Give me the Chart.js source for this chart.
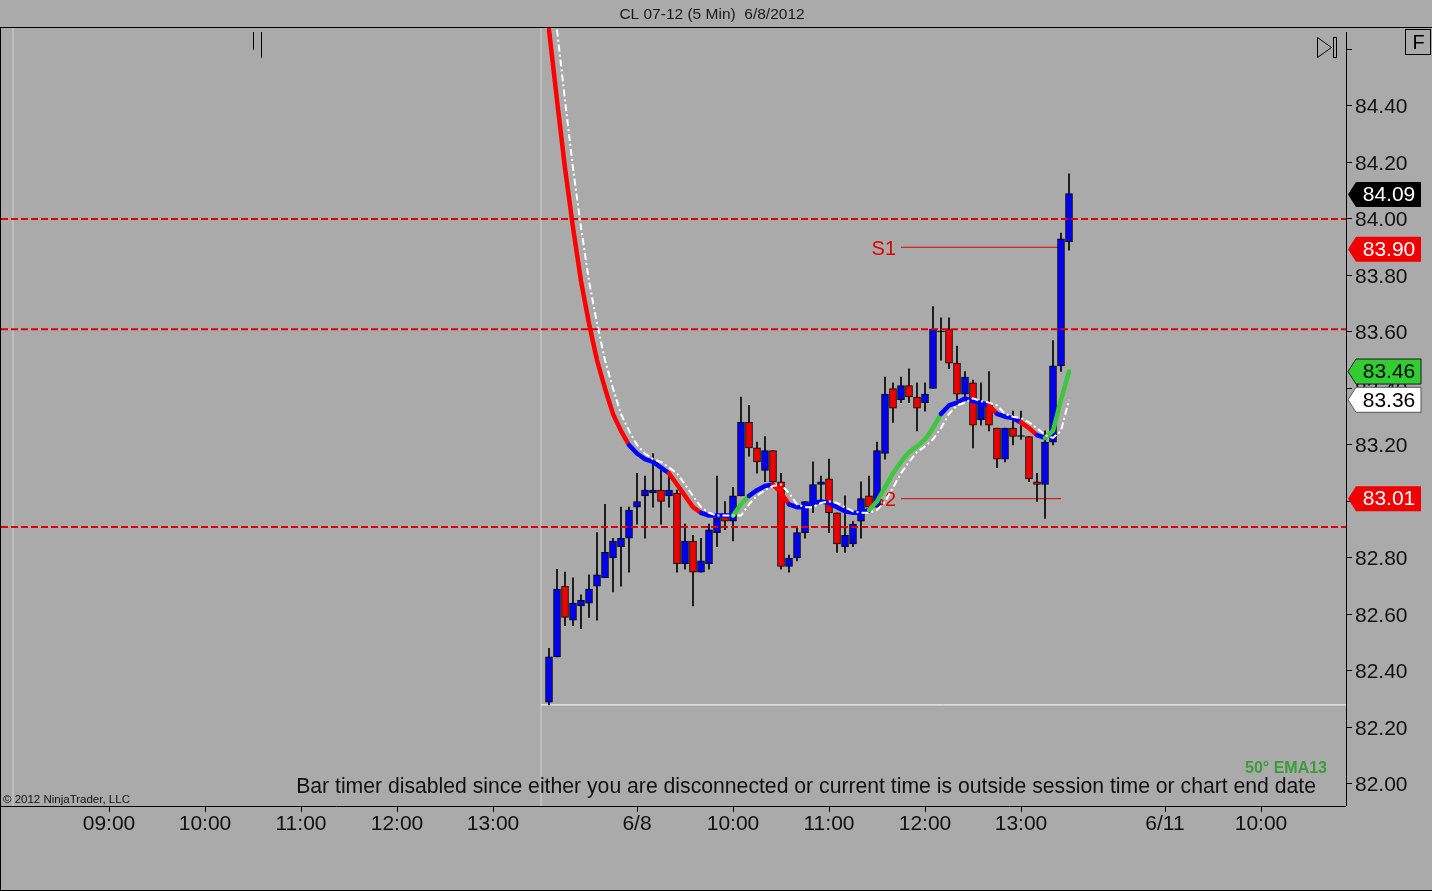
<!DOCTYPE html>
<html>
<head>
<meta charset="utf-8">
<title>CL 07-12 (5 Min) 6/8/2012</title>
<script src="https://cdn.jsdelivr.net/npm/chart.js@4.4.1/dist/chart.umd.min.js"></script>
<style>
  html, body { margin: 0; padding: 0; background: #aaaaaa; overflow: hidden; }
  #wrap { width: 1432px; height: 891px; position: relative; }
  canvas { display: block; }
</style>
</head>
<body>
<div id="wrap"><canvas id="chart" width="1432" height="891"></canvas></div>
<script>
/* ---- data ---- */
// x position of each bar, in 5-minute slots (slot 0 = 09:00 on 6/7)
const barSlot = [55,56,57,58,59,60,61,62,63,64,65,66,67,68,69,70,71,72,73,74,75,76,77,78,79,80,81,82,83,84,85,86,87,88,89,90,91,92,93,94,95,96,97,98,99,100,101,102,103,104,105,106,107,108,109,110,111,112,113,114,115,116,117,118,119,120];

const opens = [82.29,82.45,82.70,82.58,82.63,82.64,82.70,82.73,82.80,82.84,
  82.87,82.98,83.02,83.03,83.04,83.02,83.03,82.78,82.86,82.75,
  82.78,82.89,82.95,82.93,83.02,83.28,83.19,83.11,83.18,83.07,
  82.77,82.80,82.89,82.99,83.06,83.08,82.96,82.84,82.85,82.93,
  83.02,82.98,83.17,83.40,83.36,83.41,83.37,83.35,83.40,83.60,
  83.61,83.49,83.38,83.42,83.29,83.34,83.26,83.15,83.26,83.23,
  83.23,83.07,83.06,83.21,83.48,83.92];
const highs = [82.48,82.76,82.75,82.73,82.67,82.74,82.89,82.99,82.87,82.98,
  82.98,83.10,83.09,83.17,83.11,83.10,83.04,82.92,82.88,82.87,
  82.92,83.09,83.00,83.05,83.37,83.34,83.21,83.23,83.18,83.10,
  82.81,82.91,83.00,83.14,83.09,83.15,82.96,83.02,82.93,83.07,
  83.09,83.21,83.44,83.42,83.44,83.47,83.42,83.42,83.69,83.65,
  83.65,83.55,83.46,83.43,83.42,83.46,83.26,83.26,83.32,83.32,
  83.23,83.10,83.25,83.57,83.95,84.16];
const lows = [82.28,82.45,82.56,82.56,82.55,82.59,82.58,82.73,82.68,82.70,
  82.75,82.92,82.87,82.98,82.92,82.98,82.75,82.76,82.63,82.75,
  82.76,82.84,82.90,82.86,83.02,83.16,83.10,83.07,83.06,82.76,
  82.75,82.79,82.87,82.96,83.00,82.89,82.82,82.82,82.84,82.87,
  82.96,82.98,83.15,83.28,83.35,83.35,83.25,83.32,83.40,83.50,
  83.47,83.36,83.36,83.19,83.27,83.25,83.12,83.14,83.20,83.22,
  83.07,83.00,82.94,83.20,83.46,83.89];
const closes = [82.45,82.69,82.59,82.64,82.65,82.69,82.74,82.82,82.86,82.87,
  82.97,83.00,83.04,83.04,83.00,83.04,82.78,82.86,82.75,82.79,
  82.90,82.94,82.93,83.02,83.28,83.19,83.14,83.18,83.07,82.77,
  82.80,82.89,83.00,83.06,83.07,82.96,82.85,82.88,82.92,83.01,
  82.98,83.18,83.38,83.33,83.41,83.37,83.33,83.38,83.61,83.60,
  83.49,83.38,83.44,83.27,83.35,83.27,83.15,83.26,83.23,83.23,
  83.08,83.06,83.21,83.48,83.93,84.09];

// EMA13 as plotted, and its slope state (d = falling, f = flat, u = rising)
const ema13 = [84.67,84.42,84.18,83.97,83.78,83.63,83.50,83.40,83.31,83.25,
  83.20,83.17,83.15,83.14,83.12,83.10,83.06,83.02,82.98,82.96,
  82.95,82.95,82.95,82.95,82.99,83.02,83.04,83.055,83.06,83.03,
  82.99,82.98,82.98,82.995,83.00,82.995,82.98,82.965,82.96,82.96,
  82.97,83.00,83.05,83.10,83.14,83.175,83.195,83.22,83.26,83.31,
  83.34,83.35,83.365,83.355,83.35,83.34,83.31,83.30,83.295,83.28,
  83.26,83.235,83.225,83.25,83.36,83.46];
const emaTrend = ['d','d','d','d','d','d','d','d','d','d',
  'd','f','f','f','f','f','d','d','d','d',
  'f','f','f','f','u','u','f','f','f','d',
  'd','f','f','f','f','f','f','f','f','f',
  'f','u','u','u','u','u','u','u','u','u',
  'f','f','f','f','f','f','d','f','f','f',
  'd','d','f','u','u','u'];

// axes
const xTickSlots = [0,12,24,36,48,66,78,90,102,114,132,144];
const xTickLabels = ['09:00','10:00','11:00','12:00','13:00','6/8','10:00','11:00','12:00','13:00','6/11','10:00'];
const yTickValues = [82.0,82.2,82.4,82.6,82.8,83.0,83.2,83.4,83.6,83.8,84.0,84.2,84.4,84.6];
const yTickLabels = ['82.00','82.20','82.40','82.60','82.80','83.00','83.20','83.40','83.60','83.80','84.00','84.20','84.40',''];

// drawn levels
const dashedLevels = [84.00, 83.61, 82.91];
const sessionLow = 82.28;
const pivotNames = ['S1', 'S2'];
const pivotValues = [83.90, 83.01];
const pivotSlots = [99, 119];
const sessionBreakSlots = [-12, 54];

/* ---- layout ---- */
const X_MIN = -13.5, X_MAX = 154.625;
const Y_MIN = 81.9221, Y_MAX = 84.6796;
const FONT = "'Liberation Sans', Arial, sans-serif";
const C_UP = '#0000f0', C_DN = '#f00000';
const trendColor = { d: '#ff0000', f: '#0000ff', u: '#3cc83c' };

const bodyData = barSlot.map((s, i) => ({ x: s, y: [Math.min(opens[i], closes[i]), Math.max(opens[i], closes[i])] }));
const bodyColors = barSlot.map((s, i) => closes[i] > opens[i] ? C_UP : (closes[i] < opens[i] ? C_DN : '#000'));
const wickData = barSlot.map((s, i) => ({ x: s, y: [lows[i], highs[i]] }));
const emaData = barSlot.map((s, i) => ({ x: s, y: ema13[i] }));
// second (white) line: same average displaced one bar to the right
const emaShifted = barSlot.slice(0, -1).map((s, i) => ({ x: barSlot[i + 1], y: ema13[i] }));

const hLine = (v, x0, x1) => [{ x: x0, y: v }, { x: x1, y: v }];

const datasets = [];
dashedLevels.forEach(v => datasets.push({
  type: 'line', data: hLine(v, X_MIN, X_MAX), borderColor: '#e00000', borderWidth: 2,
  borderDash: [7, 3], pointRadius: 0, order: 0
}));
sessionBreakSlots.forEach(s => datasets.push({
  type: 'line', data: [{ x: s, y: Y_MIN }, { x: s, y: Y_MAX }], borderColor: '#cfcfcf',
  borderWidth: 1, pointRadius: 0, order: 12
}));
datasets.push({
  type: 'line', data: hLine(sessionLow, sessionBreakSlots[1], X_MAX), borderColor: '#ffffff',
  borderWidth: 1, pointRadius: 0, order: 11
});
pivotValues.forEach(v => datasets.push({
  type: 'line', data: hLine(v, pivotSlots[0], pivotSlots[1]), borderColor: '#e00000',
  borderWidth: 1, pointRadius: 0, order: 10
}));
datasets.push({
  type: 'bar', data: wickData, backgroundColor: '#000', borderWidth: 0,
  barThickness: 1, grouped: false, order: 6
});
datasets.push({
  type: 'bar', data: bodyData, backgroundColor: bodyColors, borderColor: '#000', borderWidth: 1,
  borderSkipped: false, barThickness: 7, minBarLength: 1, grouped: false, order: 5
});
datasets.push({
  type: 'line', data: emaData, borderWidth: 4.5, pointRadius: 0, tension: 0,
  borderColor: '#0000ff', borderCapStyle: 'round', borderJoinStyle: 'round',
  segment: { borderColor: ctx => trendColor[emaTrend[ctx.p1DataIndex]] }, order: 2
});
datasets.push({
  type: 'line', data: emaShifted, borderWidth: 2, pointRadius: 0, tension: 0,
  borderColor: '#ffffff', borderDash: [7, 3, 2, 3], order: 1
});

function priceTag(ctx, y, bg, fg, text, stroke) {
  ctx.save();
  ctx.beginPath();
  ctx.moveTo(1348, y);
  ctx.lineTo(1356, y - 12.5);
  ctx.lineTo(1421, y - 12.5);
  ctx.lineTo(1421, y + 12.5);
  ctx.lineTo(1356, y + 12.5);
  ctx.closePath();
  ctx.fillStyle = bg;
  ctx.fill();
  if (stroke) { ctx.strokeStyle = stroke; ctx.lineWidth = 1; ctx.stroke(); }
  ctx.fillStyle = fg;
  ctx.font = '21px ' + FONT;
  ctx.textAlign = 'center';
  ctx.textBaseline = 'middle';
  ctx.fillText(text, 1389, y + 1);
  ctx.restore();
}

function line(ctx, x0, y0, x1, y1) {
  ctx.beginPath(); ctx.moveTo(x0, y0); ctx.lineTo(x1, y1); ctx.stroke();
}

const decor = {
  id: 'decor',
  beforeDatasetsDraw(chart) {
    const ctx = chart.ctx, xs = chart.scales.x, ys = chart.scales.y;
    ctx.save();
    ctx.font = '20px ' + FONT;
    ctx.fillStyle = '#e00000';
    ctx.textAlign = 'right';
    ctx.textBaseline = 'middle';
    pivotNames.forEach((n, i) => {
      ctx.fillText(n, xs.getPixelForValue(pivotSlots[0]) - 5, ys.getPixelForValue(pivotValues[i]) + 2);
    });
    ctx.restore();
  },
  afterDraw(chart) {
    const ctx = chart.ctx, ys = chart.scales.y, a = chart.chartArea;
    ctx.save();
    // frame
    ctx.strokeStyle = '#000';
    ctx.lineWidth = 1;
    line(ctx, 0, 27.5, 1432, 27.5);
    line(ctx, 0.5, 27, 0.5, 891);
    line(ctx, 0, a.bottom + 0.5, a.right, a.bottom + 0.5);
    line(ctx, a.right + 0.5, 32, a.right + 0.5, a.bottom);
    line(ctx, 0, 890.5, 1432, 890.5);

    // title
    ctx.fillStyle = '#1a1a1a';
    ctx.font = '15.5px ' + FONT;
    ctx.textAlign = 'center';
    ctx.textBaseline = 'alphabetic';
    ctx.fillText('CL 07-12 (5 Min)  6/8/2012', 712, 19);

    // pause marks and scroll icon
    line(ctx, 253.5, 32, 253.5, 50);
    line(ctx, 261.5, 32, 261.5, 58);
    ctx.beginPath();
    ctx.moveTo(1317.5, 37.5); ctx.lineTo(1331.5, 47.5); ctx.lineTo(1317.5, 57.5); ctx.closePath();
    ctx.stroke();
    ctx.strokeRect(1333.5, 37.5, 3, 20);
    ctx.strokeRect(1405.5, 29.5, 25, 25);
    ctx.fillStyle = '#000';
    ctx.font = '20px ' + FONT;
    ctx.textAlign = 'center';
    ctx.textBaseline = 'middle';
    ctx.fillText('F', 1418.5, 43);

    // texts at the bottom of the panel
    ctx.textBaseline = 'alphabetic';
    ctx.textAlign = 'left';
    ctx.font = '11.5px ' + FONT;
    ctx.fillStyle = '#111';
    ctx.fillText('\u00a9 2012 NinjaTrader, LLC', 3, 803);
    ctx.font = '21.2px ' + FONT;
    ctx.textAlign = 'right';
    ctx.fillText('Bar timer disabled since either you are disconnected or current time is outside session time or chart end date', 1316, 793);
    ctx.font = 'bold 16px ' + FONT;
    ctx.fillStyle = '#3a9d3a';
    ctx.fillText('50\u00b0 EMA13', 1327, 773);

    // price markers on the axis
    const n = closes.length;
    priceTag(ctx, ys.getPixelForValue(closes[n - 1]) + 1, '#000', '#fff', closes[n - 1].toFixed(2));
    priceTag(ctx, ys.getPixelForValue(pivotValues[0]) + 2, '#f00000', '#fff', pivotValues[0].toFixed(2));
    priceTag(ctx, ys.getPixelForValue(ema13[n - 1]), '#32cd32', '#000', ema13[n - 1].toFixed(2), '#1a1a1a');
    priceTag(ctx, ys.getPixelForValue(ema13[n - 2]), '#ffffff', '#000', ema13[n - 2].toFixed(2), '#555');
    priceTag(ctx, ys.getPixelForValue(pivotValues[1]), '#f00000', '#fff', pivotValues[1].toFixed(2));
    ctx.restore();
  }
};

new Chart(document.getElementById('chart').getContext('2d'), {
  data: { datasets },
  options: {
    responsive: false,
    animation: false,
    devicePixelRatio: 1,
    layout: { padding: { top: 27, left: 1, right: 0, bottom: 0 } },
    plugins: { legend: { display: false }, tooltip: { enabled: false } },
    scales: {
      x: {
        type: 'linear', min: X_MIN, max: X_MAX, offset: false,
        afterBuildTicks: s => { s.ticks = xTickSlots.map(v => ({ value: v })); },
        afterFit: s => { s.height = 85; },
        ticks: {
          autoSkip: false, maxRotation: 0, padding: 0, color: '#111',
          font: { family: FONT, size: 21 },
          callback: (v, i) => xTickLabels[i]
        },
        grid: { offset: false, drawOnChartArea: false, drawTicks: true, tickLength: 6, color: '#000' },
        border: { display: false }
      },
      y: {
        type: 'linear', position: 'right', min: Y_MIN, max: Y_MAX,
        afterBuildTicks: s => { s.ticks = yTickValues.map(v => ({ value: v })); },
        afterFit: s => { s.width = 86; },
        ticks: {
          padding: 3, color: '#111', labelOffset: 1.5,
          font: { family: FONT, size: 21 },
          callback: (v, i) => yTickLabels[i]
        },
        grid: { offset: false, drawOnChartArea: false, drawTicks: true, tickLength: 6, color: '#000' },
        border: { display: false }
      }
    }
  },
  plugins: [decor]
});
</script>
</body>
</html>
